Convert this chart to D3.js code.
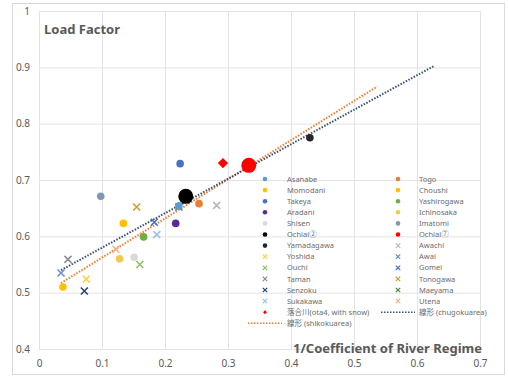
<!DOCTYPE html>
<html>
<head>
<meta charset="utf-8">
<script src="https://cdn.jsdelivr.net/npm/d3@7"></script>
<style>
  body { margin: 0; background: #fff; }
  text { font-family: "Noto Sans", "Noto Sans CJK JP", sans-serif; fill: #595959; }
</style>
</head>
<body>
<script>
// station data: name, x (1/coefficient of river regime), y (load factor)
var circleNames  = ["Asanabe", "Togo", "Momodani", "Choushi", "Takeya", "Yashirogawa", "Aradani",
                    "Ichinosaka", "Shisen", "Imatomi", "Ochiai\u2461", "Ochiai\u2466", "Yamadagawa"];
var circleX      = [0.222, 0.254, 0.038, 0.134, 0.224, 0.166, 0.217, 0.128, 0.151, 0.098, 0.233, 0.333, 0.430];
var circleY      = [0.654, 0.658, 0.510, 0.623, 0.729, 0.599, 0.623, 0.560, 0.563, 0.671, 0.671, 0.726, 0.775];
var circleColors = ["#5B9BD5", "#ED7D31", "#FFC000", "#FFC000", "#4472C4", "#70AD47", "#5B2C8F",
                    "#F2C94C", "#D9D9D9", "#8497B0", "#000000", "#FF0000", "#262626"];
var circleBig    = [false, false, false, false, false, false, false, false, false, false, true, true, false];

var crossNames  = ["Awachi", "Yoshida", "Awai", "Ouchi", "Gomei", "Taman", "Tonogawa",
                   "Senzoku", "Maeyama", "Sukakawa", "Utena"];
var crossX      = [0.282, 0.075, 0.035, 0.160, 0.183, 0.046, 0.155, 0.072, 0.222, 0.187, 0.122];
var crossY      = [0.655, 0.524, 0.535, 0.550, 0.625, 0.559, 0.652, 0.503, 0.652, 0.603, 0.577];
var crossColors = ["#B7B7B7", "#FFD34D", "#6F8FD8", "#8CC168", "#4472C4", "#8C8C8C", "#C9A227",
                   "#264478", "#548235", "#9DC3E6", "#F4B183"];

var snowName = "\u843d\u5408\u5ddd(ota4, with snow)";
var snowX = [0.292];
var snowY = [0.730];

// trend lines (endpoints)
var chugokuName = "\u7dda\u5f62 (chugokuarea)";
var chugokuX = [0.035, 0.628];
var chugokuY = [0.540, 0.903];
var shikokuName = "\u7dda\u5f62 (shikokuarea)";
var shikokuX = [0.035, 0.537];
var shikokuY = [0.517, 0.866];

var xTicks = [0, 0.1, 0.2, 0.3, 0.4, 0.5, 0.6, 0.7];
var yTicks = [0.4, 0.5, 0.6, 0.7, 0.8, 0.9, 1];

var width = 508, height = 376;
var svg = d3.select("body").append("svg")
  .attr("width", width)
  .attr("height", height);

// outer chart border
svg.append("rect")
  .attr("x", 12.5).attr("y", 3.5)
  .attr("width", 492).attr("height", 371)
  .attr("fill", "#fff")
  .attr("stroke", "#d9d9d9");

var x = d3.scaleLinear().domain([0, 0.7]).range([39, 480]);
var y = d3.scaleLinear().domain([0.4, 1]).range([349, 11]);

// grid
svg.append("g").selectAll("line").data(xTicks).enter().append("line")
  .attr("x1", function (d) { return x(d) + 0.5; })
  .attr("x2", function (d) { return x(d) + 0.5; })
  .attr("y1", y(1)).attr("y2", y(0.4))
  .attr("stroke", "#e3e3e3");
svg.append("g").selectAll("line").data(yTicks).enter().append("line")
  .attr("x1", x(0)).attr("x2", x(0.7))
  .attr("y1", function (d) { return y(d) + 0.5; })
  .attr("y2", function (d) { return y(d) + 0.5; })
  .attr("stroke", "#e3e3e3");

// axes (labels only)
var xAxis = svg.append("g")
  .attr("transform", "translate(0," + (y(0.4) + 6) + ")")
  .call(d3.axisBottom(x).tickValues(xTicks).tickSize(0).tickFormat(d3.format("")));
var yAxis = svg.append("g")
  .attr("transform", "translate(" + (x(0) - 6) + ",0)")
  .call(d3.axisLeft(y).tickValues(yTicks).tickSize(0).tickFormat(d3.format("")));
[xAxis, yAxis].forEach(function (a) {
  a.select(".domain").remove();
  a.selectAll("text").style("font-size", "10px").style("fill", "#595959")
    .style("font-family", "Noto Sans");
});
xAxis.selectAll("text").attr("dy", "0.9em");

// trend lines
var line = d3.line()
  .x(function (d) { return x(d[0]); })
  .y(function (d) { return y(d[1]); });
svg.append("path")
  .datum(d3.zip(shikokuX, shikokuY))
  .attr("d", line)
  .attr("fill", "none")
  .attr("stroke", "#ED7D31")
  .attr("stroke-width", 2)
  .attr("stroke-dasharray", "1.5,1.5");
svg.append("path")
  .datum(d3.zip(chugokuX, chugokuY))
  .attr("d", line)
  .attr("fill", "none")
  .attr("stroke", "#3B4E78")
  .attr("stroke-width", 2)
  .attr("stroke-dasharray", "1.5,1.5");

// markers
function crossPath(cx, cy, s) {
  return "M" + (cx - s) + "," + (cy - s) + "L" + (cx + s) + "," + (cy + s) +
         "M" + (cx - s) + "," + (cy + s) + "L" + (cx + s) + "," + (cy - s);
}

var circles = d3.range(circleNames.length).map(function (i) {
  return { x: circleX[i], y: circleY[i], color: circleColors[i], big: circleBig[i] };
});
var crosses = d3.range(crossNames.length).map(function (i) {
  return { x: crossX[i], y: crossY[i], color: crossColors[i] };
});

svg.append("g").selectAll("path").data(crosses).enter().append("path")
  .attr("d", function (d) { return crossPath(x(d.x), y(d.y), 3.5); })
  .attr("stroke", function (d) { return d.color; })
  .attr("stroke-width", 1.6)
  .attr("fill", "none");

svg.append("g").selectAll("circle").data(circles).enter().append("circle")
  .attr("cx", function (d) { return x(d.x); })
  .attr("cy", function (d) { return y(d.y); })
  .attr("r", function (d) { return d.big ? 7.5 : 3.8; })
  .style("fill", function (d) { return d.color; });

svg.append("g").selectAll("path").data(d3.zip(snowX, snowY)).enter().append("path")
  .attr("d", d3.symbol().type(d3.symbolSquare).size(52))
  .attr("transform", function (d) { return "translate(" + x(d[0]) + "," + y(d[1]) + ") rotate(45)"; })
  .attr("fill", "#FF0000");

// titles
svg.append("text")
  .attr("x", 44).attr("y", 34)
  .style("font-size", "13px").style("font-weight", "bold")
  .text("Load Factor");
svg.append("text")
  .attr("x", 482).attr("y", 353)
  .attr("text-anchor", "end")
  .style("font-size", "13px").style("font-weight", "bold")
  .text("1/Coefficient of River Regime");

// legend (two columns, row-wise like Excel)
var legendItems = [];
circleNames.forEach(function (n, i) { legendItems.push({ name: n, type: "circle", color: circleColors[i] }); });
crossNames.forEach(function (n, i) { legendItems.push({ name: n, type: "cross", color: crossColors[i] }); });
legendItems.push({ name: snowName, type: "diamond", color: "#FF0000" });
legendItems.push({ name: chugokuName, type: "line", color: "#3B4E78" });
legendItems.push({ name: shikokuName, type: "line", color: "#ED7D31" });

var colMark = [265, 398], colText = [287, 419];
var legend = svg.append("g").selectAll("g").data(legendItems).enter().append("g")
  .attr("transform", function (d, i) {
    return "translate(0," + (179 + Math.floor(i / 2) * 11.1) + ")";
  });

legend.each(function (d, i) {
  var g = d3.select(this), c = i % 2;
  var mx = colMark[c];
  if (d.type === "circle") {
    g.append("circle").attr("cx", mx).attr("cy", 0).attr("r", 2.3).style("fill", d.color);
  } else if (d.type === "cross") {
    g.append("path").attr("d", crossPath(mx, 0, 2.2))
      .attr("stroke", d.color).attr("stroke-width", 1.2).attr("fill", "none");
  } else if (d.type === "diamond") {
    g.append("path").attr("d", d3.symbol().type(d3.symbolSquare).size(8))
      .attr("transform", "translate(" + mx + ",0) rotate(45)").attr("fill", d.color);
  } else {
    g.append("line").attr("x1", mx - 17).attr("x2", mx + 17).attr("y1", 0).attr("y2", 0)
      .attr("stroke", d.color).attr("stroke-width", 1.5).attr("stroke-dasharray", "1.5,1.5");
  }
  g.append("text").attr("x", colText[c]).attr("y", 0).attr("dy", "0.35em")
    .style("font-size", "7.5px").style("fill", "#6b6b6b").text(d.name);
});
</script>
</body>
</html>
